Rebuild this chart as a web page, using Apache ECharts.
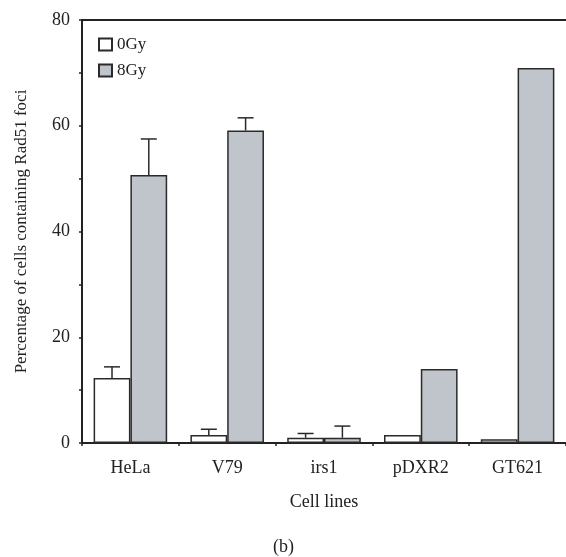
<!DOCTYPE html>
<html>
<head>
<meta charset="utf-8">
<script src="https://cdn.jsdelivr.net/npm/echarts@6/dist/echarts.min.js"></script>
<style>
    html, body { margin: 0; padding: 0; background: #fff; }
    #chart { width: 566px; height: 557px; }
</style>
</head>
<body>
<div id="chart"></div>
<script>
// values
const categories = ['HeLa', 'V79', 'irs1', 'pDXR2', 'GT621'];
const gy0 = [12.3, 1.5, 1.0, 1.5, 0.7];
const gy0Err = [2.1, 1.1, 0.8, null, null];
const gy8 = [50.7, 59.1, 1.0, 14.0, 70.9];
const gy8Err = [6.8, 2.4, 2.2, null, null];
const yTicks = [0, 20, 40, 60, 80];

const font = '"Liberation Serif", "DejaVu Serif", serif';
const gapPct = 0.24;

// one-sided (upper) error bars sitting on top of each bar
function errorSeries(values, errs, side) {
    const data = [];
    values.forEach((v, i) => {
        if (errs[i] != null) data.push([i, v, v + errs[i]]);
    });
    return {
        type: 'custom',
        z: 5,
        silent: true,
        data: data,
        renderItem(params, api) {
            const band = api.size([1, 0])[0];
            const w = band * (1 - gapPct) / 2;
            const base = api.coord([api.value(0), api.value(1)]);
            const top = api.coord([api.value(0), api.value(2)]);
            const x = base[0] + side * w / 2;
            const cap = 8;
            const style = { stroke: '#2a2a2a', lineWidth: 1.5 };
            return {
                type: 'group',
                children: [
                    { type: 'line', shape: { x1: x, y1: base[1], x2: x, y2: top[1] }, style },
                    { type: 'line', shape: { x1: x - cap, y1: top[1], x2: x + cap, y2: top[1] }, style }
                ]
            };
        }
    };
}

const chart = echarts.init(document.getElementById('chart'));
const option = {
    animation: false,
    backgroundColor: '#fff',
    textStyle: { fontFamily: font },
    grid: { left: 82, right: -2, top: 20, bottom: 114 },
    legend: {
        orient: 'vertical',
        left: 93,
        top: 31,
        icon: 'rect',
        itemWidth: 13,
        itemHeight: 12,
        itemGap: 9,
        textStyle: { fontFamily: font, fontSize: 17, color: '#222' },
        data: ['0Gy', '8Gy']
    },
    xAxis: [{
        type: 'category',
        data: categories,
        name: 'Cell lines',
        nameLocation: 'middle',
        nameGap: 50,
        nameTextStyle: { fontFamily: font, fontSize: 18, color: '#222' },
        axisLine: { lineStyle: { color: '#222', width: 2 } },
        axisTick: { show: true, length: 3, inside: false, lineStyle: { color: '#222', width: 1.5 } },
        axisLabel: { fontFamily: font, fontSize: 18, color: '#222', margin: 16 }
    }, {
        type: 'category',
        position: 'top',
        data: categories,
        axisLine: { show: true, lineStyle: { color: '#222', width: 2 } },
        axisTick: { show: false },
        axisLabel: { show: false }
    }],
    yAxis: {
        type: 'value',
        min: yTicks[0],
        max: yTicks[yTicks.length - 1],
        interval: 20,
        name: 'Percentage of cells containing Rad51 foci',
        nameLocation: 'middle',
        nameGap: 52,
        nameTextStyle: { fontFamily: font, fontSize: 17, color: '#222' },
        axisLine: { show: true, lineStyle: { color: '#222', width: 2 } },
        axisTick: { show: true, length: 3, lineStyle: { color: '#222', width: 1.5 } },
        minorTick: { show: true, splitNumber: 2, length: 3, lineStyle: { color: '#222', width: 1.5 } },
        splitLine: { show: false },
        axisLabel: { fontFamily: font, fontSize: 18, color: '#222', margin: 12 }
    },
    series: [
        {
            name: '0Gy',
            type: 'bar',
            data: gy0,
            barGap: '0%',
            barCategoryGap: (gapPct * 100) + '%',
            itemStyle: { color: '#ffffff', borderColor: '#2a2a2a', borderWidth: 1.5 }
        },
        {
            name: '8Gy',
            type: 'bar',
            data: gy8,
            barGap: '0%',
            barCategoryGap: (gapPct * 100) + '%',
            itemStyle: { color: '#c0c4cb', borderColor: '#2a2a2a', borderWidth: 1.5 }
        },
        errorSeries(gy0, gy0Err, -1),
        errorSeries(gy8, gy8Err, 1)
    ],
    graphic: [{
        type: 'text',
        left: 273,
        top: 538,
        style: { text: '(b)', font: '18px ' + font, fill: '#222' }
    }]
};
chart.setOption(option);
</script>
</body>
</html>
